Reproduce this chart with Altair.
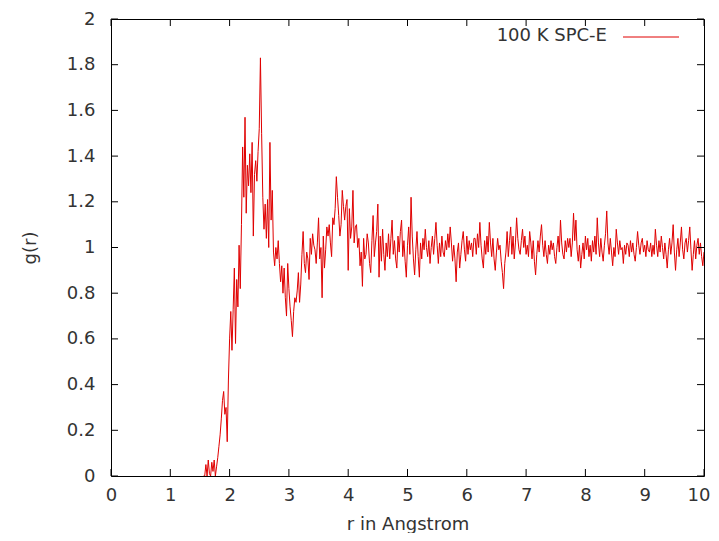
import altair as alt
import pandas as pd

# radial grid of the histogram (Angstrom)
R_START = 1.56
R_STEP = 0.02

# g(r), r = 1.56 ... 2.82
g_first_shell = [
    0.00, 0.00, 0.05, 0.00, 0.07, 0.01, 0.00, 0.06,
    0.02, 0.07, 0.00, 0.04, 0.08, 0.13, 0.18, 0.25,
    0.33, 0.37, 0.27, 0.30, 0.15, 0.42, 0.60, 0.72,
    0.55, 0.73, 0.91, 0.58, 0.86, 0.74, 1.01, 0.82,
    1.10, 1.44, 1.22, 1.57, 1.15, 1.36, 1.27, 1.41,
    1.24, 1.46, 1.05, 1.32, 1.38, 1.29, 1.42, 1.52,
    1.83, 1.50, 1.22, 1.08, 1.19, 1.04, 1.21, 1.00,
    1.46, 1.12, 1.25, 0.98, 0.92, 1.00, 0.95, 1.03,
]
# r = 2.84 ... 3.44
g_first_min = [
    0.93, 0.85, 0.92, 0.80, 0.91, 0.78, 0.70, 0.93,
    0.82, 0.74, 0.68, 0.61, 0.72, 0.78, 0.76, 0.81,
    0.89, 0.76, 0.84, 0.97, 1.07, 0.93, 0.89, 0.98,
    0.95, 0.86, 1.04, 0.97, 1.06, 1.01, 0.99,
]
# r = 3.46 ... 4.52
g_second_shell = [
    0.93, 1.02, 1.13, 0.95, 1.00, 0.78, 1.05, 0.91,
    0.99, 1.09, 1.05, 1.10, 1.02, 0.96, 1.13, 1.10,
    1.17, 1.31, 1.22, 1.14, 1.05, 1.10, 1.25, 1.18,
    1.12, 1.18, 1.21, 0.90, 1.17, 1.04, 1.09, 1.25,
    1.02, 1.09, 1.10, 1.00, 1.04, 0.92, 0.98, 0.83,
    1.04, 0.95, 0.97, 1.06, 1.02, 0.93, 0.89, 1.03,
    1.14, 0.96, 1.02, 1.07, 1.19, 0.87,
]
# r = 4.54 ... 10.00
g_tail = [
    1.05, 0.94, 1.08, 0.97, 0.90, 1.02, 0.96, 1.06, 0.95, 1.04,
    1.12, 0.97, 1.03, 0.95, 0.91, 1.05, 0.98, 1.07, 1.12, 0.96,
    1.03, 0.94, 0.87, 1.01, 1.09, 0.97, 1.22, 1.05, 0.95, 0.88,
    0.99, 1.07, 0.96, 0.87, 1.02, 0.95, 1.04, 0.99, 1.08, 1.00,
    0.96, 1.03, 0.93, 1.00, 1.05, 0.97, 1.04, 1.11, 1.01, 0.93,
    1.02, 0.96, 1.05, 0.98, 0.96, 1.03, 0.99, 1.06, 1.00, 1.09,
    1.02, 0.94, 1.01, 0.95, 0.85, 0.98, 1.02, 0.91, 0.97, 1.03,
    1.07, 0.99, 0.94, 1.05, 0.97, 1.03, 0.99, 1.02, 0.96, 1.04,
    1.04, 0.97, 1.06, 1.00, 1.11, 1.01, 0.95, 0.91, 1.03, 0.97,
    1.05, 0.98, 1.11, 1.02, 0.96, 1.04, 0.95, 0.90, 0.98, 1.04,
    0.99, 1.01, 0.94, 0.89, 0.82, 0.93, 0.98, 1.07, 0.96, 1.03,
    1.09, 0.97, 1.05, 0.95, 1.02, 1.13, 1.04, 0.99, 0.97, 1.03,
    1.08, 1.00, 1.05, 0.97, 1.01, 0.96, 1.07, 1.02, 0.95, 1.03,
    0.94, 0.88, 0.97, 1.03, 0.98, 1.05, 1.10, 1.01, 0.96, 1.03,
    0.97, 0.93, 1.01, 0.97, 1.03, 0.99, 1.02, 0.96, 0.93, 1.00,
    1.05, 0.98, 1.12, 1.02, 0.97, 0.95, 1.03, 0.98, 1.04, 1.00,
    1.04, 0.96, 1.02, 1.15, 1.03, 1.12, 0.99, 0.94, 1.01, 0.91,
    0.97, 1.02, 0.95, 1.05, 0.99, 1.04, 0.96, 1.01, 0.94, 1.03,
    0.98, 1.05, 0.97, 1.13, 1.02, 0.96, 1.04, 0.98, 0.94, 1.01,
    1.06, 1.16, 1.02, 0.97, 1.04, 0.98, 0.92, 1.00, 0.96, 1.08,
    1.02, 0.97, 1.03, 0.99, 1.00, 0.93, 1.01, 0.97, 1.02, 1.01,
    0.96, 1.03, 0.98, 1.02, 0.97, 0.94, 1.00, 1.07, 1.01, 0.97,
    1.02, 1.04, 0.98, 1.01, 0.96, 1.03, 0.99, 0.98, 1.02, 0.96,
    1.01, 0.97, 1.08, 1.01, 0.96, 1.03, 0.98, 1.05, 1.00, 0.95,
    1.02, 0.97, 0.91, 0.99, 1.04, 0.97, 1.02, 1.10, 0.98, 0.90,
    0.99, 1.04, 0.96, 1.02, 1.09, 0.99, 0.95, 1.02, 1.04, 0.98,
    1.03, 1.09, 0.99, 0.90, 0.97, 1.03, 0.95, 1.01, 1.04, 0.97,
    1.02, 0.96, 0.92, 0.98,
]

x_ticks = [0, 1, 2, 3, 4, 5, 6, 7, 8, 9, 10]
y_ticks = [0, 0.2, 0.4, 0.6, 0.8, 1.0, 1.2, 1.4, 1.6, 1.8, 2.0]
series_name = "100 K SPC-E"

g = g_first_shell + g_first_min + g_second_shell + g_tail
r = [round(R_START + i * R_STEP, 2) for i in range(len(g))]
df = pd.DataFrame({"r": r, "g": g})

W, H = 593, 457
FONT = "DejaVu Sans"
FS = 18
TXT = "#333333"
RED = "#e00000"
TL = 7

xscale = alt.Scale(domain=[0, 10], nice=False, zero=False)
yscale = alt.Scale(domain=[0, 2], nice=False)

line = alt.Chart(df).mark_line(color=RED, strokeWidth=1, clip=True).encode(
    x=alt.X("r:Q", scale=xscale,
            axis=alt.Axis(values=x_ticks, format="d", ticks=False, domain=False,
                          grid=False, labelFlush=False, labelFontSize=FS,
                          labelAlign={"condition": {"test": "datum.value == 10",
                                                    "value": "right"},
                                      "value": "center"},
                          labelOffset={"condition": {"test": "datum.value == 10",
                                                     "value": 6},
                                       "value": 0},
                          labelColor=TXT, labelFont=FONT, labelPadding=10,
                          title="r in Angstrom", titleFont=FONT,
                          titleFontSize=FS, titleFontWeight="normal",
                          titleColor=TXT, titlePadding=11)),
    y=alt.Y("g:Q", scale=yscale,
            axis=alt.Axis(values=y_ticks, format="~g", ticks=False, domain=False,
                          grid=False, labelFlush=False, labelFontSize=FS,
                          labelColor=TXT, labelFont=FONT, labelPadding=16,
                          title="g(r)", titleFont=FONT, titleFontSize=FS,
                          titleFontWeight="normal", titleColor=TXT,
                          titlePadding=27)),
)

xt = pd.DataFrame({"t": x_ticks})
yt = pd.DataFrame({"t": y_ticks})

xb = alt.Chart(xt).mark_rule(color="black", strokeWidth=1).encode(
    x=alt.X("t:Q", scale=xscale), y=alt.value(H), y2=alt.value(H - TL))
xtop = alt.Chart(xt).mark_rule(color="black", strokeWidth=1).encode(
    x=alt.X("t:Q", scale=xscale), y=alt.value(0), y2=alt.value(TL))
yl = alt.Chart(yt).mark_rule(color="black", strokeWidth=1).encode(
    y=alt.Y("t:Q", scale=yscale), x=alt.value(0), x2=alt.value(TL))
yr = alt.Chart(yt).mark_rule(color="black", strokeWidth=1).encode(
    y=alt.Y("t:Q", scale=yscale), x=alt.value(W), x2=alt.value(W - TL))

leg_df = pd.DataFrame({"name": [series_name]})
leg_text = alt.Chart(leg_df).mark_text(
    align="right", baseline="middle", font=FONT, fontSize=FS, color=TXT
).encode(text="name:N", x=alt.value(496), y=alt.value(17))
leg_line = alt.Chart(leg_df).mark_rule(color=RED, strokeWidth=1).encode(
    x=alt.value(512), x2=alt.value(568), y=alt.value(18))

chart = alt.layer(line, xb, xtop, yl, yr, leg_text, leg_line).properties(
    width=W, height=H,
    autosize=alt.AutoSizeParams(type="none"),
    padding={"left": 103, "top": 11, "right": 7, "bottom": 57},
    background="white",
).configure_view(stroke="black", strokeWidth=1)

chart.save("out.html", embed_options={"renderer": "svg", "actions": False})
